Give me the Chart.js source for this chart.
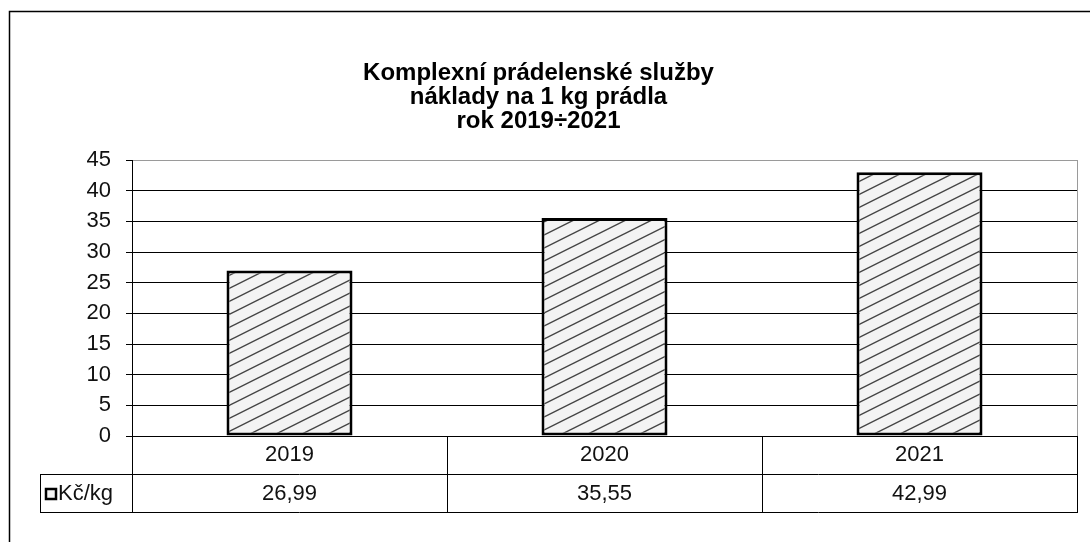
<!DOCTYPE html>
<html>
<head>
<meta charset="utf-8">
<script src="https://cdn.jsdelivr.net/npm/chart.js@4.4.0/dist/chart.umd.min.js"></script>
<style>
html,body{margin:0;padding:0;background:#fff;overflow:hidden}
#wrap{width:1090px;height:542px;position:relative}
</style>
</head>
<body>
<div id="wrap"><canvas id="c" width="1090" height="542"></canvas></div>
<script>
// ---- data ----
const titleLines = ['Komplexní prádelenské služby', 'náklady na 1 kg prádla', 'rok 2019÷2021'];
const categories = ['2019', '2020', '2021'];
const seriesName = 'Kč/kg';
const values = [26.99, 35.55, 42.99];
const yMin = 0;
const yMax = 45;
const yStep = 5;

const FAMILY = '"Liberation Sans", Arial, sans-serif';
const TEXT_SIZE = 22;

function formatValue(v) { return v.toFixed(2).replace('.', ','); }

function makeHatch() {
  const w = 26, h = 13;
  const t = document.createElement('canvas');
  t.width = w; t.height = h;
  const g = t.getContext('2d');
  g.fillStyle = '#f3f3f3';
  g.fillRect(0, 0, w, h);
  g.strokeStyle = '#444';
  g.lineWidth = 1.4;
  g.beginPath();
  g.moveTo(-4, h + 2); g.lineTo(w + 4, -2);
  g.moveTo(-4, 2); g.lineTo(4, -2);
  g.moveTo(w - 4, h + 2); g.lineTo(w + 4, h - 2);
  g.stroke();
  return document.getElementById('c').getContext('2d').createPattern(t, 'repeat');
}

const framePlugin = {
  id: 'frame',
  beforeDraw(chart) {
    const ctx = chart.ctx;
    ctx.save();
    ctx.fillStyle = '#fff';
    ctx.fillRect(0, 0, chart.width, chart.height);
    ctx.strokeStyle = '#000';
    ctx.lineWidth = 1.5;
    ctx.strokeRect(9.5, 11.5, chart.width + 20, chart.height + 20);
    ctx.restore();
  }
};

const tablePlugin = {
  id: 'dataTable',
  afterDraw(chart) {
    const ctx = chart.ctx;
    const a = chart.chartArea;
    const xs = chart.scales.x;
    const n = categories.length;
    const colW = (a.right - a.left) / n;
    const row1Bottom = a.bottom + 38;
    const row2Bottom = a.bottom + 76;
    const legendLeft = 40;
    ctx.save();
    // plot area right border (grey)
    ctx.strokeStyle = '#9a9a9a';
    ctx.lineWidth = 1;
    ctx.beginPath();
    ctx.moveTo(a.right + 0.5, a.top);
    ctx.lineTo(a.right + 0.5, a.bottom);
    ctx.stroke();
    // table lines
    ctx.strokeStyle = '#000';
    ctx.beginPath();
    ctx.moveTo(a.left + 0.5, a.top); ctx.lineTo(a.left + 0.5, row2Bottom);
    for (let i = 1; i <= n; i++) {
      const x = Math.round(xs.getPixelForValue(i - 1) + colW / 2) + 0.5;
      ctx.moveTo(x, a.bottom); ctx.lineTo(x, row2Bottom);
    }
    ctx.moveTo(legendLeft + 0.5, row1Bottom); ctx.lineTo(legendLeft + 0.5, row2Bottom);
    ctx.moveTo(legendLeft, row1Bottom + 0.5); ctx.lineTo(a.right + 1, row1Bottom + 0.5);
    ctx.moveTo(legendLeft, row2Bottom + 0.5); ctx.lineTo(a.right + 1, row2Bottom + 0.5);
    ctx.stroke();
    // values
    const midY = (row1Bottom + row2Bottom) / 2 + 1;
    ctx.fillStyle = '#111';
    ctx.font = TEXT_SIZE + 'px ' + FAMILY;
    ctx.textAlign = 'center';
    ctx.textBaseline = 'middle';
    values.forEach((v, i) => {
      ctx.fillText(formatValue(v), xs.getPixelForValue(i), midY);
    });
    // legend key
    ctx.fillStyle = '#f3f3f3';
    ctx.fillRect(46, midY - 5, 10, 10);
    ctx.lineWidth = 2.5;
    ctx.strokeStyle = '#000';
    ctx.strokeRect(46, midY - 5, 10, 10);
    ctx.fillStyle = '#111';
    ctx.textAlign = 'left';
    ctx.fillText(seriesName, 58, midY);
    ctx.restore();
  }
};

new Chart(document.getElementById('c'), {
  type: 'bar',
  data: {
    labels: categories,
    datasets: [{
      label: seriesName,
      data: values,
      backgroundColor: makeHatch(),
      borderColor: '#000',
      borderWidth: 3,
      borderSkipped: false,
      barPercentage: 0.4,
      categoryPercentage: 1.0
    }]
  },
  options: {
    responsive: false,
    animation: false,
    events: [],
    layout: { padding: { left: 0, right: 13, top: 0, bottom: 30 } },
    plugins: {
      legend: { display: false },
      tooltip: { enabled: false },
      title: {
        display: true,
        text: titleLines,
        color: '#000',
        font: { family: FAMILY, size: 24, weight: 'bold', lineHeight: 1.0 },
        padding: { top: 61, bottom: 27 }
      }
    },
    scales: {
      x: {
        grid: { display: false, drawTicks: false },
        border: { display: false },
        ticks: { color: '#111', font: { family: FAMILY, size: TEXT_SIZE }, padding: 6 },
        afterFit(s) { s.height = 76; }
      },
      y: {
        min: yMin, max: yMax,
        ticks: { stepSize: yStep, color: '#111', font: { family: FAMILY, size: TEXT_SIZE }, padding: 15 },
        grid: {
          color: (c) => (c.tick && c.tick.value === yMax) ? '#9a9a9a' : '#000',
          tickColor: '#000',
          tickLength: 6,
          lineWidth: 1
        },
        border: { display: true, color: '#000', width: 1 },
        afterFit(s) { s.width = 132; }
      }
    }
  },
  plugins: [framePlugin, tablePlugin]
});
</script>
</body>
</html>
